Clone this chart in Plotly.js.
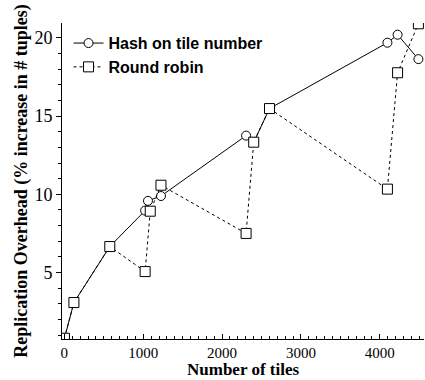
<!DOCTYPE html>
<html>
<head>
<meta charset="utf-8">
<script src="https://cdn.plot.ly/plotly-3.0.1.min.js"></script>
<style>html,body{margin:0;padding:0;background:#fff;}#chart{width:425px;height:380px;}</style>
</head>
<body>
<div id="chart"></div>
<script>
// Hash on tile number
const hashTiles = [1, 121, 576, 1024, 1060, 1225, 2304, 2401, 2601, 4096, 4225, 4489];
const hashOverhead = [0.8, 3.08, 6.66, 8.96, 9.58, 9.89, 13.75, 13.33, 15.48, 19.69, 20.2, 18.64];
// Round robin
const rrTiles = [1, 121, 576, 1024, 1089, 1225, 2304, 2401, 2601, 4096, 4225, 4489];
const rrOverhead = [0.8, 3.08, 6.66, 5.06, 8.92, 10.58, 7.5, 13.33, 15.48, 10.33, 17.77, 20.9];

const xTickVals = [0, 1000, 2000, 3000, 4000];
const yTickVals = [5, 10, 15, 20];
const xTitle = 'Number of tiles';
const yTitle = 'Replication Overhead (% increase in # tuples)';

const traces = [
  {
    x: hashTiles, y: hashOverhead, name: 'Hash on tile number',
    type: 'scatter', mode: 'lines+markers',
    line: {color: '#000', width: 1, dash: 'solid'},
    marker: {symbol: 'circle', size: 9, color: '#fff', line: {color: '#000', width: 1}}
  },
  {
    x: rrTiles, y: rrOverhead, name: 'Round robin',
    type: 'scatter', mode: 'lines+markers',
    line: {color: '#000', width: 1, dash: '3px,3px'},
    marker: {symbol: 'square', size: 10, color: '#fff', line: {color: '#000', width: 1}}
  }
];

const serif = '"Liberation Serif", "Times New Roman", serif';
const layout = {
  width: 425, height: 380,
  margin: {l: 62, r: 1, t: 23, b: 41},
  paper_bgcolor: '#fff', plot_bgcolor: '#fff',
  showlegend: true,
  legend: {
    x: 0.018, y: 0.99, xanchor: 'left', yanchor: 'top',
    bgcolor: 'rgba(0,0,0,0)', borderwidth: 0,
    itemwidth: 30, tracegroupgap: 0,
    font: {family: '"Liberation Sans", Arial, sans-serif', size: 16, color: '#000', weight: 'bold'}
  },
  xaxis: {
    range: [-30, 4560],
    tickvals: xTickVals,
    ticktext: xTickVals.map(String),
    ticks: 'inside', ticklen: 5, tickcolor: '#000', tickwidth: 1,
    minor: {dtick: 100, tick0: 0, ticks: 'inside', ticklen: 3, tickcolor: '#000', tickwidth: 1},
    showline: true, linecolor: '#000', linewidth: 1, mirror: false,
    showgrid: false, zeroline: false,
    tickfont: {family: serif, size: 15, color: '#000'}
  },
  yaxis: {
    range: [0.75, 20.95],
    tickvals: yTickVals,
    ticktext: yTickVals.map(String),
    ticks: 'outside', ticklen: 5, tickcolor: '#000', tickwidth: 1,
    minor: {dtick: 1, tick0: 0, ticks: 'outside', ticklen: 3, tickcolor: '#000', tickwidth: 1},
    showline: true, linecolor: '#000', linewidth: 1, mirror: false,
    showgrid: false, zeroline: false,
    tickfont: {family: serif, size: 18, color: '#000'},
    title: {text: '<b>' + yTitle + '</b>', font: {family: serif, size: 18, color: '#000'}, standoff: 2}
  },
  annotations: [
    {
      text: '<b>' + xTitle + '</b>', xref: 'paper', yref: 'paper', x: 0.5, y: 0,
      xanchor: 'center', yanchor: 'bottom', yshift: -41, showarrow: false, borderpad: 0,
      font: {family: serif, size: 17, color: '#000'}
    }
  ]
};

Plotly.newPlot('chart', traces, layout, {displayModeBar: false, staticPlot: true});
</script>
</body>
</html>
